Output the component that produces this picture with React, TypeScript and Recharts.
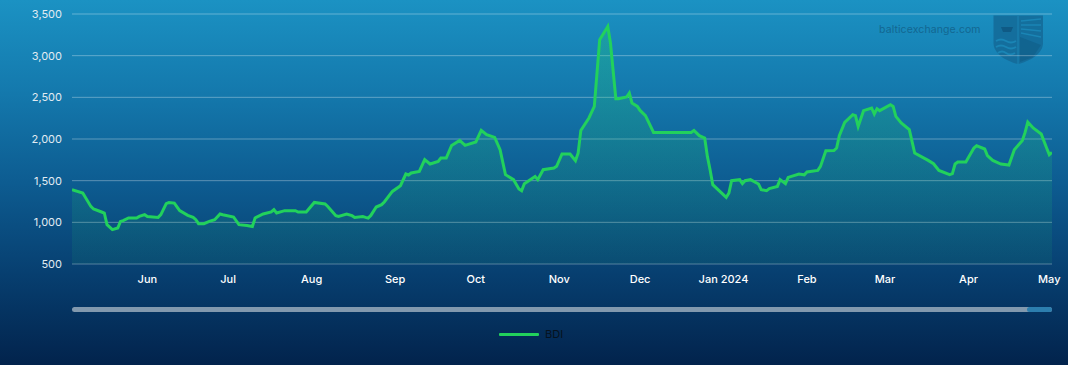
import React from 'react';
import { ComposedChart, Area, XAxis, YAxis, CartesianGrid, Legend } from 'recharts';

// Day offsets from 2023-05-01
const days = [
  3, 7, 10, 11, 14, 15, 16, 18, 20, 21, 22, 24, 27, 28, 30, 31, 35, 36, 38, 39,
  41, 43, 46, 48, 49, 50, 52, 54, 56, 58, 59, 63, 65, 68, 70, 71, 74, 77, 78, 79,
  82, 86, 87, 90, 93, 97, 98, 101, 102, 105, 107, 108, 111, 112, 113, 114, 116, 118, 119, 122,
  125, 127, 128, 129, 132, 134, 136, 139, 140, 142, 144, 147, 149, 153, 155, 157, 160, 162, 164, 167,
  169, 170, 171, 175, 176, 178, 182, 183, 185, 188, 190, 191, 192, 195, 197, 199, 202, 203, 205, 206,
  209, 210, 211, 213, 214, 216, 219, 233, 234, 236, 238, 239, 240, 241, 246, 247, 248, 251, 252, 253,
  255, 258, 259, 261, 262, 265, 266, 268, 269, 273, 275, 276, 280, 281, 283, 286, 287, 288, 290, 293,
  294, 295, 297, 300, 301, 302, 303, 307, 308, 309, 311, 314, 316, 321, 323, 325, 329, 330, 331, 332,
  335, 338, 339, 342, 343, 345, 348, 351, 353, 356, 357, 358, 360, 363, 365, 366, 367,
];

const bdi = [
  1392, 1352, 1191, 1160, 1124, 1112, 972, 912, 932, 1011, 1020, 1052, 1052, 1071, 1092, 1071, 1059, 1092, 1224, 1239,
  1231, 1140, 1083, 1059, 1032, 984, 984, 1011, 1032, 1100, 1092, 1064, 972, 963, 951, 1052, 1100, 1124, 1152, 1112,
  1140, 1140, 1124, 1124, 1239, 1220, 1190, 1080, 1071, 1100, 1080, 1059, 1071, 1059, 1052, 1083, 1184, 1212, 1244, 1371,
  1440, 1580, 1568, 1592, 1611, 1752, 1700, 1731, 1772, 1772, 1923, 1983, 1923, 1964, 2103, 2052, 2019, 1872, 1572, 1512,
  1400, 1380, 1464, 1551, 1512, 1632, 1652, 1672, 1820, 1820, 1740, 1832, 2103, 2252, 2391, 3192, 3351, 3152, 2484, 2484,
  2504, 2552, 2432, 2391, 2343, 2280, 2079, 2079, 2103, 2040, 2012, 1791, 1632, 1452, 1299, 1352, 1500, 1512, 1464, 1500,
  1512, 1460, 1392, 1380, 1404, 1431, 1512, 1464, 1539, 1580, 1570, 1604, 1623, 1671, 1860, 1862, 1892, 2040, 2199, 2292,
  2280, 2151, 2340, 2372, 2300, 2364, 2340, 2412, 2391, 2271, 2192, 2112, 1832, 1743, 1703, 1623, 1572, 1584, 1700, 1724,
  1724, 1892, 1920, 1880, 1800, 1743, 1700, 1688, 1872, 1983, 2079, 2204, 2132, 2060, 1892, 1812, 1839,
];

// Month ticks (day offsets from 2023-05-01) and labels
const monthTicks = [31, 61, 92, 123, 153, 184, 214, 245, 276, 305, 336, 366];
const monthLabels = ['Jun', 'Jul', 'Aug', 'Sep', 'Oct', 'Nov', 'Dec', 'Jan 2024', 'Feb', 'Mar', 'Apr', 'May'];

const yTicks = [500, 1000, 1500, 2000, 2500, 3000, 3500];

const seriesName = 'BDI';

const data = days.map((d, i) => ({ day: d, BDI: bdi[i] }));

const FONT = 'Inter, "Noto Sans", sans-serif';

const LegendContent = () => (
  <div style={{ position: 'absolute', top: 327, left: 499, display: 'flex', alignItems: 'center', fontFamily: FONT }}>
    <div style={{ width: 40, height: 3, background: '#22d15c', borderRadius: 1 }} />
    <span style={{ marginLeft: 6, fontSize: 11, color: '#06121e' }}>{seriesName}</span>
  </div>
);

export default function App() {
  return (
    <div
      style={{
        position: 'fixed',
        left: 0,
        top: 0,
        width: 1068,
        height: 365,
        background: 'linear-gradient(180deg, #1b92c3 0%, #1479ad 25%, #0d5c91 50%, #073f70 75%, #02234c 100%)',
        overflow: 'hidden',
      }}
    >
      {/* watermark */}
      <div
        style={{
          position: 'absolute',
          left: 879,
          top: 23,
          fontFamily: FONT,
          fontSize: 10.5,
          color: '#136791',
          letterSpacing: 0.1,
        }}
      >
        balticexchange.com
      </div>
      <svg style={{ position: 'absolute', left: 993, top: 15 }} width={51} height={50} viewBox="0 0 51 50">
        <path d="M0.5,0.5 H50 V28 C50,38 38,46 25,49 C12,46 0.5,38 0.5,28 Z" fill="#146a98" opacity={0.85} />
        <line x1={25} y1={1} x2={25} y2={49} stroke="#1a85b5" strokeWidth={1} />
        <path d="M3,26 Q8,23 13,26 T23,26" stroke="#1a85b5" strokeWidth={2} fill="none" />
        <path d="M3,32 Q8,29 13,32 T23,32" stroke="#1a85b5" strokeWidth={2} fill="none" />
        <path d="M5,38 Q9,35 13,38 T22,38" stroke="#1a85b5" strokeWidth={2} fill="none" />
        <path d="M8,12 H20 L18,17 H10 Z" fill="#0f5a85" />
        <path d="M28,6 L48,4 M28,10 L48,10 M28,14 L48,16 M28,18 L48,22" stroke="#1a85b5" strokeWidth={1.5} />
        <path d="M27,22 L48,30 L40,42 L27,47 Z" fill="#0f5f8a" opacity={0.7} />
      </svg>

      <ComposedChart
        width={1068}
        height={365}
        data={data}
        margin={{ top: 14, right: 16, bottom: 71, left: 0 }}
        style={{ position: 'absolute', left: 0, top: 0 }}
      >
        <defs>
          <linearGradient id="bdiFill" x1="0" y1="0" x2="0" y2="1">
            <stop offset="0%" stopColor="#26d36a" stopOpacity={0.45} />
            <stop offset="100%" stopColor="#26d36a" stopOpacity={0.12} />
          </linearGradient>
        </defs>
        <CartesianGrid vertical={false} stroke="rgba(255,255,255,0.32)" strokeWidth={1} />
        <XAxis
          dataKey="day"
          type="number"
          domain={[3, 367]}
          ticks={monthTicks}
          tickFormatter={(v: number) => monthLabels[monthTicks.indexOf(v)] ?? ''}
          axisLine={false}
          tickLine={false}
          tickMargin={5}
          height={30}
          interval={0}
          allowDataOverflow
          tick={{ fill: '#ffffff', fontSize: 11, fontFamily: FONT, fontWeight: 500 }}
        />
        <YAxis
          type="number"
          domain={[500, 3500]}
          ticks={yTicks}
          tickFormatter={(v: number) => v.toLocaleString('en-US')}
          axisLine={false}
          tickLine={false}
          tickMargin={4}
          width={72}
          allowDataOverflow
          tick={{ fill: '#e2ebf2', fontSize: 11, fontFamily: FONT }}
        />
        <Area
          type="linear"
          dataKey="BDI"
          name={seriesName}
          stroke="#22d15c"
          strokeWidth={3}
          fill="url(#bdiFill)"
          baseValue={500}
          dot={false}
          activeDot={false}
          isAnimationActive={false}
        />
        <Legend content={LegendContent} wrapperStyle={{ top: 0, left: 0, width: 0, height: 0 }} />
      </ComposedChart>

      {/* scrollbar */}
      <div
        style={{
          position: 'absolute',
          left: 72,
          top: 307,
          width: 980,
          height: 5,
          borderRadius: 3,
          background: '#8299ae',
        }}
      />
      <div
        style={{
          position: 'absolute',
          left: 1027,
          top: 307,
          width: 25,
          height: 5,
          borderRadius: 3,
          background: '#2c7eae',
        }}
      />
    </div>
  );
}
